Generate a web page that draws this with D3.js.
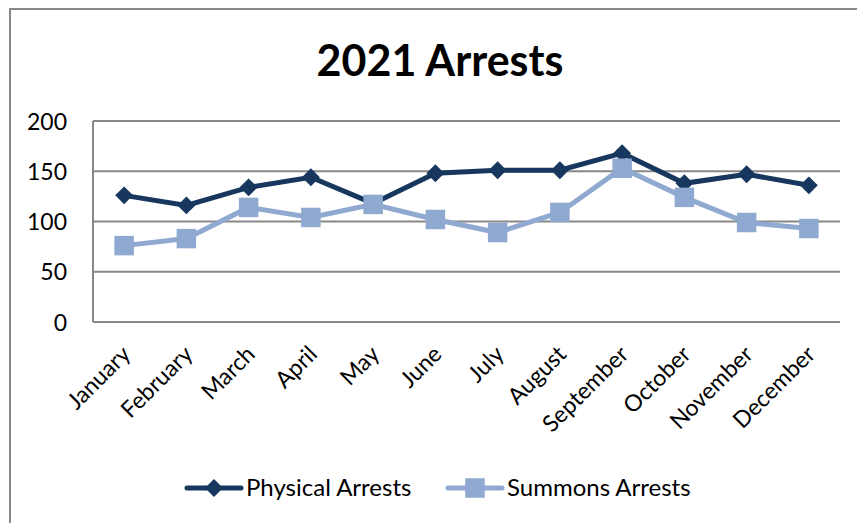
<!DOCTYPE html>
<html>
<head>
<meta charset="utf-8">
<style>
    body { margin: 0; background: #fff; }
    text { font-family: Lato, "Open Sans", sans-serif; fill: #000; }
    .grid line { stroke: #888; stroke-width: 2px; }
    .axis path, .axis line { display: none; }
</style>
<script src="https://d3js.org/d3.v7.min.js"></script>
</head>
<body>
<script>
    const months = ["January", "February", "March", "April", "May", "June",
                    "July", "August", "September", "October", "November", "December"];
    const physical = [126, 116, 134, 144, 118, 148, 151, 151, 168, 138, 147, 136];
    const summons = [76, 83, 114, 104, 117, 102, 89, 109, 153, 124, 99, 93];
    const yTicks = [0, 50, 100, 150, 200];

    const W = 857, H = 523;
    const plotLeft = 93, plotRight = 840, plotTop = 121, plotBottom = 322;
    const darkBlue = "#17375e", lightBlue = "#8fa9d0";

    const svg = d3.select("body").append("svg")
        .attr("width", W)
        .attr("height", H);

    // outer chart border (runs off the page at right and bottom)
    svg.append("rect")
        .attr("x", 10).attr("y", 9)
        .attr("width", 870).attr("height", 540)
        .attr("fill", "none")
        .attr("stroke", "#888")
        .attr("stroke-width", 2);

    svg.append("text")
        .attr("x", 440).attr("y", 76)
        .attr("text-anchor", "middle")
        .attr("font-size", 43)
        .attr("font-weight", "bold")
        .text("2021 Arrests");

    const x = d3.scaleBand().domain(months).range([plotLeft, plotRight]);
    const y = d3.scaleLinear().domain([0, 200]).range([plotBottom, plotTop]);

    // gridlines
    svg.append("g").attr("class", "grid")
        .selectAll("line")
        .data(yTicks)
        .join("line")
        .attr("x1", plotLeft).attr("x2", plotRight)
        .attr("y1", d => y(d)).attr("y2", d => y(d));

    svg.append("line")
        .attr("x1", plotLeft).attr("x2", plotLeft)
        .attr("y1", plotTop).attr("y2", plotBottom)
        .attr("stroke", "#888").attr("stroke-width", 2);

    // y axis labels
    const yAxis = svg.append("g")
        .attr("class", "axis")
        .attr("transform", "translate(" + (plotLeft - 26) + ",0)")
        .call(d3.axisLeft(y).tickValues(yTicks).tickSize(0).tickPadding(0));
    yAxis.selectAll("text")
        .attr("font-size", 23)
        .attr("dy", "0.35em");

    // x axis labels, rotated
    svg.append("g")
        .selectAll("text")
        .data(months)
        .join("text")
        .attr("transform", d => "translate(" + (x(d) + x.bandwidth() / 2 + 2) + "," + (plotBottom + 28) + ") rotate(-45)")
        .attr("text-anchor", "end")
        .attr("dy", "0.35em")
        .attr("font-size", 23)
        .text(d => d);

    const line = d3.line()
        .x((d, i) => x(months[i]) + x.bandwidth() / 2)
        .y(d => y(d));

    svg.append("path")
        .attr("d", line(summons))
        .attr("fill", "none")
        .attr("stroke", lightBlue)
        .attr("stroke-width", 5);

    svg.append("path")
        .attr("d", line(physical))
        .attr("fill", "none")
        .attr("stroke", darkBlue)
        .attr("stroke-width", 5);

    const diamond = d3.symbol().type(d3.symbolSquare).size(160);
    const square = d3.symbol().type(d3.symbolSquare).size(380);

    svg.append("g")
        .selectAll("path")
        .data(physical)
        .join("path")
        .attr("d", diamond)
        .attr("transform", (d, i) => "translate(" + (x(months[i]) + x.bandwidth() / 2) + "," + y(d) + ") rotate(45)")
        .attr("fill", darkBlue);

    svg.append("g")
        .selectAll("path")
        .data(summons)
        .join("path")
        .attr("d", square)
        .attr("transform", (d, i) => "translate(" + (x(months[i]) + x.bandwidth() / 2) + "," + y(d) + ")")
        .attr("fill", lightBlue);

    // legend
    const legend = [
        { name: "Physical Arrests", color: darkBlue, sym: diamond, rot: 45, x: 187 },
        { name: "Summons Arrests", color: lightBlue, sym: square, rot: 0, x: 448 }
    ];
    const lg = svg.append("g").selectAll("g")
        .data(legend)
        .join("g")
        .attr("transform", d => "translate(" + d.x + ",488)");
    lg.append("line")
        .attr("x1", 0).attr("x2", 54)
        .attr("stroke", d => d.color)
        .attr("stroke-width", 5)
        .attr("stroke-linecap", "round");
    lg.append("path")
        .attr("d", d => d.sym())
        .attr("transform", d => "translate(27,0) rotate(" + d.rot + ")")
        .attr("fill", d => d.color);
    lg.append("text")
        .attr("x", 59)
        .attr("dy", "0.35em")
        .attr("font-size", 24)
        .text(d => d.name);
</script>
</body>
</html>
